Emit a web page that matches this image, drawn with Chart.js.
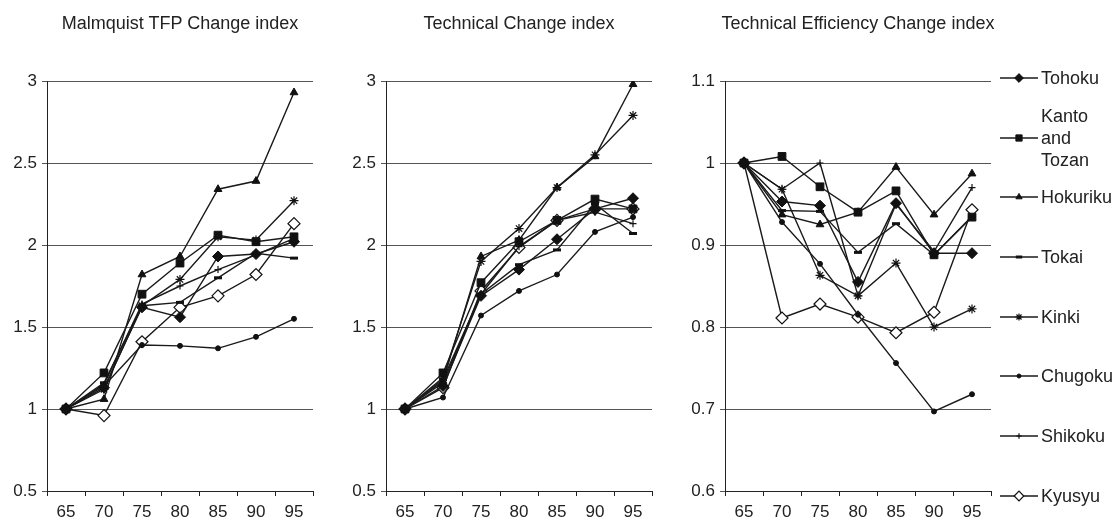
<!DOCTYPE html>
<html>
<head>
<meta charset="utf-8">
<script src="https://cdn.jsdelivr.net/npm/chart.js@4"></script>
<style>
  body { margin: 0; background: #fff; }
  #wrap { position: relative; width: 1119px; height: 524px; overflow: hidden; font-family: 'Liberation Sans', Arial, sans-serif; color: #222; }
  canvas { position: absolute; top: 0; }
  .title { position: absolute; top: 12px; width: 400px; text-align: center; font-size: 18px; line-height: 22px; }
  .lg { position: absolute; left: 998px; width: 121px; height: 24px; }
  .lg canvas { position: absolute; left: 0; top: 0; }
  .lg span { position: absolute; left: 43px; font-size: 18px; line-height: 22px; white-space: nowrap; }
</style>
</head>
<body>
<div id="wrap">
  <canvas id="c1" width="330" height="524" style="left:0px"></canvas>
  <canvas id="c2" width="330" height="524" style="left:340px"></canvas>
  <canvas id="c3" width="320" height="524" style="left:680px"></canvas>
  <div class="title" style="left:-20px">Malmquist TFP Change index</div>
  <div class="title" style="left:319px">Technical Change index</div>
  <div class="title" style="left:658px">Technical Efficiency Change index</div>
  <div id="legend"></div>
</div>
<script>
// categories and series
const years = ['65', '70', '75', '80', '85', '90', '95'];
const regions = ['Tohoku', 'Kanto and Tozan', 'Hokuriku', 'Tokai', 'Kinki', 'Chugoku', 'Shikoku', 'Kyusyu'];

// Malmquist TFP change, one row per region
const tfpValues = [
    [1, 1.13, 1.62, 1.56, 1.93, 1.945, 2.02],
    [1, 1.22, 1.70, 1.89, 2.06, 2.02, 2.05],
    [1, 1.06, 1.82, 1.93, 2.34, 2.39, 2.93],
    [1, 1.16, 1.63, 1.65, 1.80, 1.95, 1.92],
    [1, 1.12, 1.63, 1.79, 2.05, 2.03, 2.27],
    [1, 1.14, 1.39, 1.385, 1.37, 1.44, 1.55],
    [1, 1.15, 1.64, 1.75, 1.85, 1.94, 2.04],
    [1, 0.96, 1.41, 1.62, 1.69, 1.82, 2.13]
];

// Technical change
const techValues = [
    [1, 1.14, 1.69, 1.85, 2.035, 2.22, 2.285],
    [1, 1.22, 1.77, 2.02, 2.15, 2.28, 2.22],
    [1, 1.17, 1.93, 2.03, 2.35, 2.54, 2.98],
    [1, 1.18, 1.70, 1.88, 1.97, 2.25, 2.07],
    [1, 1.19, 1.90, 2.10, 2.35, 2.55, 2.79],
    [1, 1.07, 1.57, 1.72, 1.82, 2.08, 2.17],
    [1, 1.16, 1.70, 1.99, 2.15, 2.20, 2.13],
    [1, 1.13, 1.72, 1.985, 2.15, 2.22, 2.22]
];

// Technical efficiency change
const effValues = [
    [1, 0.953, 0.948, 0.855, 0.951, 0.890, 0.890],
    [1, 1.008, 0.971, 0.940, 0.966, 0.888, 0.934],
    [1, 0.937, 0.925, 0.940, 0.995, 0.937, 0.987],
    [1, 0.942, 0.941, 0.891, 0.926, 0.888, 0.935],
    [1, 0.968, 0.863, 0.838, 0.878, 0.800, 0.822],
    [1, 0.928, 0.877, 0.815, 0.756, 0.697, 0.718],
    [1, 0.968, 1.000, 0.838, 0.950, 0.892, 0.970],
    [1, 0.811, 0.828, 0.812, 0.793, 0.818, 0.943]
];

// tick labels
const indexTicks = [0.5, 1, 1.5, 2, 2.5, 3];
const effTicks = [0.6, 0.7, 0.8, 0.9, 1, 1.1];

// marker look per region
const markerStyles = ['rectRot', 'rect', 'triangle', 'line', 'star', 'circle', 'cross', 'rectRot'];
const markerSizes = [5.5, 5.5, 4.5, 4, 4.5, 2.5, 3.5, 6];
const markerFills = ['#111', '#111', '#111', '#111', '#111', '#111', '#111', '#fff'];
const markerBorders = [1, 1, 1, 3, 1.2, 1, 1.2, 1.2];

// legend rows (centre y)
const legendY = [78, 138, 197, 257, 317, 376, 436, 496];

Chart.defaults.font.family = "'Liberation Sans', Arial, sans-serif";
Chart.defaults.font.size = 17;
Chart.defaults.color = '#222';

function makePanel(id, values, ticks, yWidth, padRight) {
    const ctx = document.getElementById(id).getContext('2d');
    return new Chart(ctx, {
        type: 'line',
        data: {
            labels: years,
            datasets: values.map((row, i) => ({
                label: regions[i],
                data: row,
                borderColor: '#1a1a1a',
                borderWidth: 1.4,
                pointStyle: markerStyles[i],
                pointRadius: markerSizes[i],
                pointBackgroundColor: markerFills[i],
                pointBorderColor: '#111',
                pointBorderWidth: markerBorders[i],
                tension: 0,
                fill: false
            }))
        },
        options: {
            responsive: false,
            animation: false,
            layout: { padding: { top: 81, right: padRight, left: 0, bottom: 0 } },
            plugins: { legend: { display: false }, tooltip: { enabled: false } },
            scales: {
                x: {
                    offset: true,
                    grid: { offset: true, drawOnChartArea: false, tickLength: 5, color: '#222' },
                    border: { color: '#222', width: 1 },
                    ticks: { padding: 6, maxRotation: 0 },
                    afterFit: scale => { scale.height = 33; }
                },
                y: {
                    min: ticks[0],
                    max: ticks[ticks.length - 1],
                    afterBuildTicks: axis => { axis.ticks = ticks.map(v => ({ value: v })); },
                    grid: { color: '#555', tickLength: 5, lineWidth: 1 },
                    border: { color: '#222', width: 1 },
                    ticks: { padding: 5, callback: v => String(v) },
                    afterFit: scale => { scale.width = yWidth; }
                }
            }
        }
    });
}

makePanel('c1', tfpValues, indexTicks, 47, 17);
makePanel('c2', techValues, indexTicks, 46, 18);
makePanel('c3', effValues, effTicks, 45, 9);

// legend with the library's own point drawing
const legend = document.getElementById('legend');
regions.forEach((name, i) => {
    const row = document.createElement('div');
    row.className = 'lg';
    row.style.top = (legendY[i] - 12) + 'px';
    const cv = document.createElement('canvas');
    cv.width = 42; cv.height = 24;
    row.appendChild(cv);
    const c = cv.getContext('2d');
    c.strokeStyle = '#1a1a1a';
    c.lineWidth = 1.4;
    c.beginPath(); c.moveTo(2, 12); c.lineTo(40, 12); c.stroke();
    c.fillStyle = markerFills[i];
    c.strokeStyle = '#111';
    c.lineWidth = markerBorders[i];
    if (Chart.helpers && Chart.helpers.drawPoint) {
        Chart.helpers.drawPoint(c, { pointStyle: markerStyles[i], radius: markerSizes[i] * 0.8, borderWidth: markerBorders[i], rotation: 0 }, 21, 12);
    }
    const label = document.createElement('span');
    const lines = name === 'Kanto and Tozan' ? ['Kanto', 'and', 'Tozan'] : [name];
    label.innerHTML = lines.join('<br>');
    label.style.top = (12 - lines.length * 11) + 'px';
    row.appendChild(label);
    legend.appendChild(row);
});
</script>
</body>
</html>
